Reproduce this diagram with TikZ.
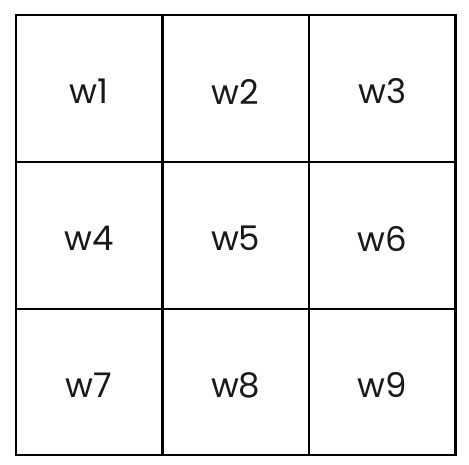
\documentclass[tikz,border=0pt]{standalone}
\usepackage{fontspec}
\setmainfont{Poppins}
\begin{document}
\begin{tikzpicture}[x=1pt,y=-1pt,
  cell/.style={draw=black, line width=2.4pt, minimum width=146.5pt, minimum height=146.5pt, inner sep=0pt},
  lab/.style={font=\fontsize{34}{36}\selectfont, text=black!90}]
\useasboundingbox (0,0) rectangle (469,465);
\node[cell] (w1) at (89.2,88.5) {};
\node[cell] (w2) at (235.7,88.5) {};
\node[cell] (w3) at (382.2,88.5) {};
\node[cell] (w4) at (89.2,235.5) {};
\node[cell] (w5) at (235.7,235.5) {};
\node[cell] (w6) at (382.2,235.5) {};
\node[cell] (w7) at (89.2,382) {};
\node[cell] (w8) at (235.7,382) {};
\node[cell] (w9) at (382.2,382) {};
\foreach \n in {1,...,9} {\node[lab] (t\n) at ([yshift=-3pt]w\n.center) {w\n};}
\end{tikzpicture}
\end{document}
